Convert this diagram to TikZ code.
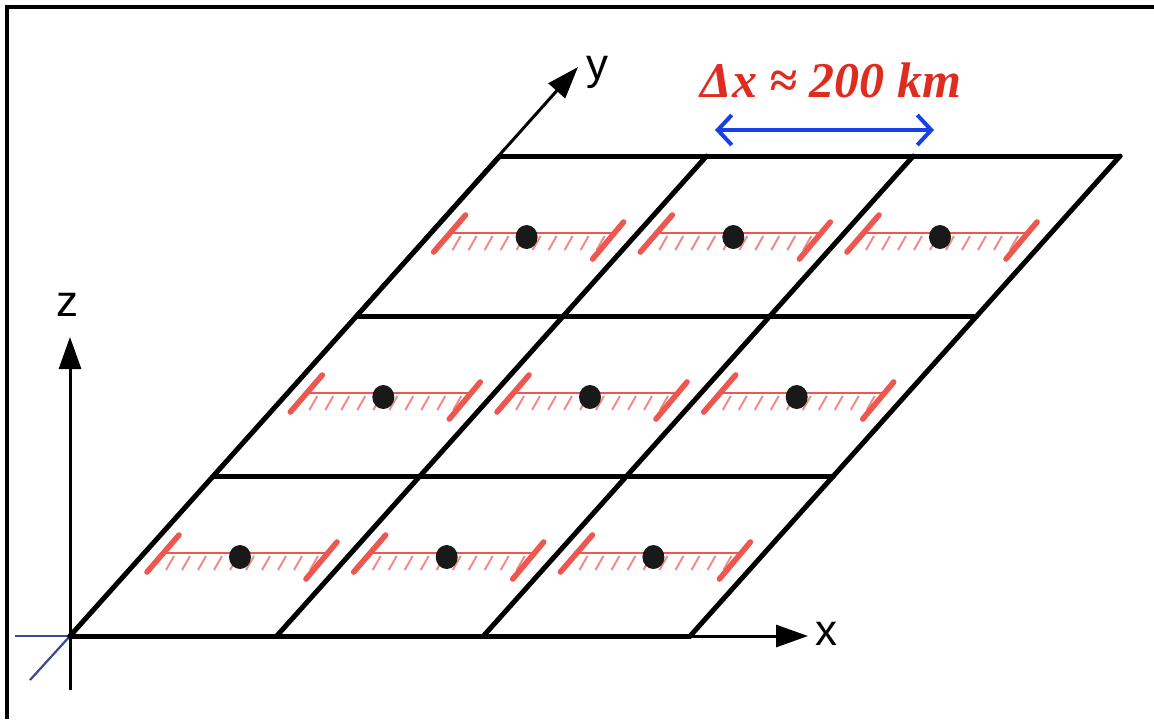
\documentclass[tikz,border=0pt]{standalone}
\usepackage{fontspec}
\setmainfont{Liberation Serif}
\setsansfont{Liberation Sans}
\usetikzlibrary{arrows.meta,calc,shapes.geometric}

\definecolor{barred}{RGB}{236,88,80}
\definecolor{hatchred}{RGB}{238,140,135}
\definecolor{dxblue}{RGB}{24,64,232}
\definecolor{dxred}{RGB}{222,44,30}
\definecolor{originblue}{RGB}{60,72,150}

\begin{document}
\begin{tikzpicture}[
        x=0.5pt, y=-0.5pt,
        gridline/.style={line width=2.5pt, line cap=round, line join=round},
        axis/.style={line width=1.5pt, -{Triangle[length=16pt,width=11pt]}},
        axlabel/.style={font=\sffamily\fontsize{22}{22}\selectfont, inner sep=0pt},
        bar/.style={draw=barred, line width=2.8pt, line cap=round},
        hatch/.style={draw=hatchred, line width=1pt},
        dot/.style={ellipse, fill=black!90, minimum width=11pt, minimum height=12pt, inner sep=0pt}
    ]
    \useasboundingbox (0,0) rectangle (1154,719);

    % frame (top and left only)
    \draw[line width=2.3pt] (7,719) -- (7,7) -- (1154,7);

    % axes
    \coordinate (O) at (70,636);
    \coordinate (zbot) at (70,690);
    \coordinate (ztip) at (70,337);
    \coordinate (ytip) at (578,67);
    \coordinate (xbase) at (690,636);
    \coordinate (xtip) at (808,636);
    \draw[originblue, line width=1.1pt] (15,636) -- (O);
    \draw[originblue, line width=1.1pt] (30,680) -- (O);
    \draw[axis] (zbot) -- (ztip);
    \draw[axis] (O) -- (ytip);
    \draw[axis] (xbase) -- (xtip);
    \node[axlabel] (zlabel) at (67,305) {z};
    \node[axlabel] (ylabel) at (597,72) {y};
    \node[axlabel] (xlabel) at (826,634) {x};

    % grid 3x3
    \foreach \i in {0,...,3}
        \foreach \j in {0,...,3}
            \coordinate (g\i\j) at ({70+206.7*\i+143.3*\j},{636-160*\j});
    \foreach \j in {0,...,3}
        \draw[gridline] (g0\j) -- (g3\j);
    \foreach \i in {0,...,3}
        \draw[gridline] (g\i0) -- (g\i3);

    % one point and its span in every cell
    \foreach \i in {0,1,2}
        \foreach \j in {0,1,2} {
            \pgfmathsetmacro\cx{70+206.7*(\i+0.5)+143.3*(\j+0.5)-5}
            \pgfmathsetmacro\cy{636-160*(\j+0.5)-3}
            \coordinate (L\i\j) at (\cx-77,\cy);
            \coordinate (R\i\j) at (\cx+88,\cy);
            \foreach \k in {0,...,9}
                \draw[hatch] (\cx-66+16*\k,\cy+3) -- ++(-8,14);
            \draw[barred, line width=1.1pt] (L\i\j) -- (R\i\j);
            \draw[bar] ($(L\i\j)+(-16,19)$) -- ($(L\i\j)+(16,-18)$);
            \draw[bar] ($(R\i\j)+(-22,26)$) -- ($(R\i\j)+(9,-11)$);
            \node[dot] (p\i\j) at (\cx,\cy+4) {};
        }

    % grid spacing
    \coordinate (dxL) at (715,130);
    \coordinate (dxR) at (934,130);
    \draw[dxblue, line width=2pt, {Straight Barb[length=7pt,width=15pt]}-{Straight Barb[length=7pt,width=15pt]}] (dxL) -- (dxR);
    \node[text=dxred, font=\bfseries\itshape\fontsize{25}{25}\selectfont] (dxlabel) at (831,80) {Δx ≈ 200 km};
\end{tikzpicture}
\end{document}
